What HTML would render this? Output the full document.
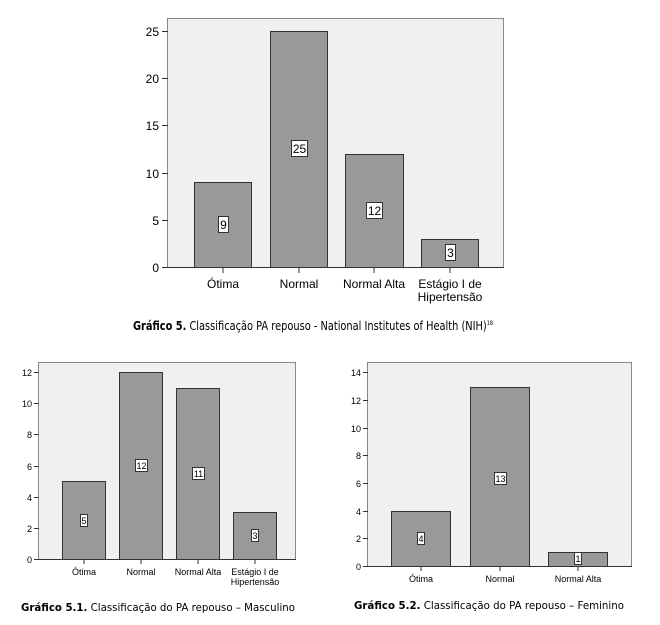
<!DOCTYPE html>
<html><head><meta charset="utf-8"><style>
html,body{margin:0;padding:0;background:#fff;}
svg{display:block;}
.ax{font-family:"Liberation Sans",Arial,sans-serif;fill:#000;}
.cap{font-family:"DejaVu Sans",Verdana,sans-serif;fill:#000;}
</style></head><body>
<svg width="660" height="625" viewBox="0 0 660 625" xmlns="http://www.w3.org/2000/svg">
<rect x="167.5" y="18.5" width="336" height="249" fill="#f0f0f0" stroke="#888"/>
<g fill="#999" stroke="#333" stroke-width="1">
<rect x="194.5" y="182.5" width="57" height="85"/>
<rect x="270.5" y="31.5" width="57" height="236"/>
<rect x="345.5" y="154.5" width="58" height="113"/>
<rect x="421.5" y="239.5" width="57" height="28"/>
</g>
<line x1="167" y1="267.5" x2="504" y2="267.5" stroke="#333"/>
<g stroke="#333">
<line x1="162" y1="267.5" x2="168" y2="267.5"/><line x1="162" y1="220.5" x2="168" y2="220.5"/>
<line x1="162" y1="173.5" x2="168" y2="173.5"/><line x1="162" y1="125.5" x2="168" y2="125.5"/>
<line x1="162" y1="78.5" x2="168" y2="78.5"/><line x1="162" y1="31.5" x2="168" y2="31.5"/>
<line x1="223" y1="267" x2="223" y2="273"/><line x1="299" y1="267" x2="299" y2="273"/>
<line x1="374" y1="267" x2="374" y2="273"/><line x1="450" y1="267" x2="450" y2="273"/>
</g>
<g class="ax" font-size="12" text-anchor="end">
<text x="159" y="272">0</text><text x="159" y="225">5</text><text x="159" y="178">10</text>
<text x="159" y="130">15</text><text x="159" y="83">20</text><text x="159" y="36">25</text>
</g>
<g class="ax" font-size="12" text-anchor="middle">
<text x="223" y="288">Ótima</text><text x="299" y="288">Normal</text>
<text x="374" y="288">Normal Alta</text><text x="450" y="288">Estágio I de</text>
<text x="450" y="301">Hipertensão</text>
</g>
<g fill="#fff" stroke="#333">
<rect x="218.5" y="216.5" width="10" height="16"/>
<rect x="291.5" y="140.5" width="16" height="16"/>
<rect x="366.5" y="202.5" width="16" height="16"/>
<rect x="445.5" y="244.5" width="10" height="16"/>
</g>
<g class="ax" font-size="12" text-anchor="middle">
<text x="223.5" y="229">9</text><text x="299.5" y="153">25</text>
<text x="374.5" y="215">12</text><text x="450.5" y="257">3</text>
</g>
<text class="cap" x="133" y="330" font-size="12" textLength="360" lengthAdjust="spacingAndGlyphs"><tspan font-weight="bold">Gráfico 5.</tspan> Classificação PA repouso - National Institutes of Health (NIH)<tspan font-size="6" dy="-5">18</tspan></text>

<rect x="38.5" y="362.5" width="257" height="197" fill="#f0f0f0" stroke="#888"/>
<g fill="#999" stroke="#333">
<rect x="62.5" y="481.5" width="43" height="78"/>
<rect x="119.5" y="372.5" width="43" height="187"/>
<rect x="176.5" y="388.5" width="43" height="171"/>
<rect x="233.5" y="512.5" width="43" height="47"/>
</g>
<line x1="38" y1="559.5" x2="296" y2="559.5" stroke="#333"/>
<g stroke="#333">
<line x1="34" y1="559.5" x2="39" y2="559.5"/><line x1="34" y1="528.5" x2="39" y2="528.5"/>
<line x1="34" y1="497.5" x2="39" y2="497.5"/><line x1="34" y1="466.5" x2="39" y2="466.5"/>
<line x1="34" y1="434.5" x2="39" y2="434.5"/><line x1="34" y1="403.5" x2="39" y2="403.5"/>
<line x1="34" y1="372.5" x2="39" y2="372.5"/>
<line x1="84" y1="559" x2="84" y2="564"/><line x1="141" y1="559" x2="141" y2="564"/>
<line x1="198" y1="559" x2="198" y2="564"/><line x1="255" y1="559" x2="255" y2="564"/>
</g>
<g class="ax" font-size="9" text-anchor="end">
<text x="32" y="563">0</text><text x="32" y="532">2</text><text x="32" y="501">4</text>
<text x="32" y="470">6</text><text x="32" y="438">8</text><text x="32" y="407">10</text><text x="32" y="376">12</text>
</g>
<g class="ax" font-size="9" text-anchor="middle">
<text x="84" y="575">Ótima</text><text x="141" y="575">Normal</text>
<text x="198" y="575">Normal Alta</text><text x="255" y="575">Estágio I de</text>
<text x="255" y="585">Hipertensão</text>
</g>
<g fill="#fff" stroke="#333">
<rect x="80.5" y="514.5" width="7" height="12"/>
<rect x="135.5" y="459.5" width="12" height="12"/>
<rect x="192.5" y="467.5" width="12" height="12"/>
<rect x="251.5" y="529.5" width="7" height="12"/>
</g>
<g class="ax" font-size="9" text-anchor="middle">
<text x="84" y="524">5</text><text x="141.5" y="469">12</text>
<text x="198.5" y="477">11</text><text x="255" y="539">3</text>
</g>
<text class="cap" x="21" y="611" font-size="11" textLength="274" lengthAdjust="spacingAndGlyphs"><tspan font-weight="bold">Gráfico 5.1.</tspan> Classificação do PA repouso – Masculino</text>

<rect x="367.5" y="362.5" width="264" height="204" fill="#f0f0f0" stroke="#888"/>
<g fill="#999" stroke="#333">
<rect x="391.5" y="511.5" width="59" height="55"/>
<rect x="470.5" y="387.5" width="59" height="179"/>
<rect x="548.5" y="552.5" width="59" height="14"/>
</g>
<line x1="367" y1="566.5" x2="632" y2="566.5" stroke="#333"/>
<g stroke="#333">
<line x1="363" y1="566.5" x2="368" y2="566.5"/><line x1="363" y1="538.5" x2="368" y2="538.5"/>
<line x1="363" y1="511.5" x2="368" y2="511.5"/><line x1="363" y1="483.5" x2="368" y2="483.5"/>
<line x1="363" y1="455.5" x2="368" y2="455.5"/><line x1="363" y1="428.5" x2="368" y2="428.5"/>
<line x1="363" y1="400.5" x2="368" y2="400.5"/><line x1="363" y1="372.5" x2="368" y2="372.5"/>
<line x1="421" y1="566" x2="421" y2="571"/><line x1="500" y1="566" x2="500" y2="571"/>
<line x1="578" y1="566" x2="578" y2="571"/>
</g>
<g class="ax" font-size="9" text-anchor="end">
<text x="361" y="570">0</text><text x="361" y="542">2</text><text x="361" y="515">4</text>
<text x="361" y="487">6</text><text x="361" y="459">8</text><text x="361" y="432">10</text>
<text x="361" y="404">12</text><text x="361" y="376">14</text>
</g>
<g class="ax" font-size="9" text-anchor="middle">
<text x="421" y="582">Ótima</text><text x="500" y="582">Normal</text><text x="578" y="582">Normal Alta</text>
</g>
<g fill="#fff" stroke="#333">
<rect x="417.5" y="532.5" width="7" height="12"/>
<rect x="494.5" y="472.5" width="12" height="12"/>
<rect x="574.5" y="552.5" width="7" height="12"/>
</g>
<g class="ax" font-size="9" text-anchor="middle">
<text x="421" y="542">4</text><text x="500.5" y="482">13</text><text x="578" y="562">1</text>
</g>
<text class="cap" x="354" y="609" font-size="11" textLength="270" lengthAdjust="spacingAndGlyphs"><tspan font-weight="bold">Gráfico 5.2.</tspan> Classificação do PA repouso – Feminino</text>
</svg>
</body></html>
